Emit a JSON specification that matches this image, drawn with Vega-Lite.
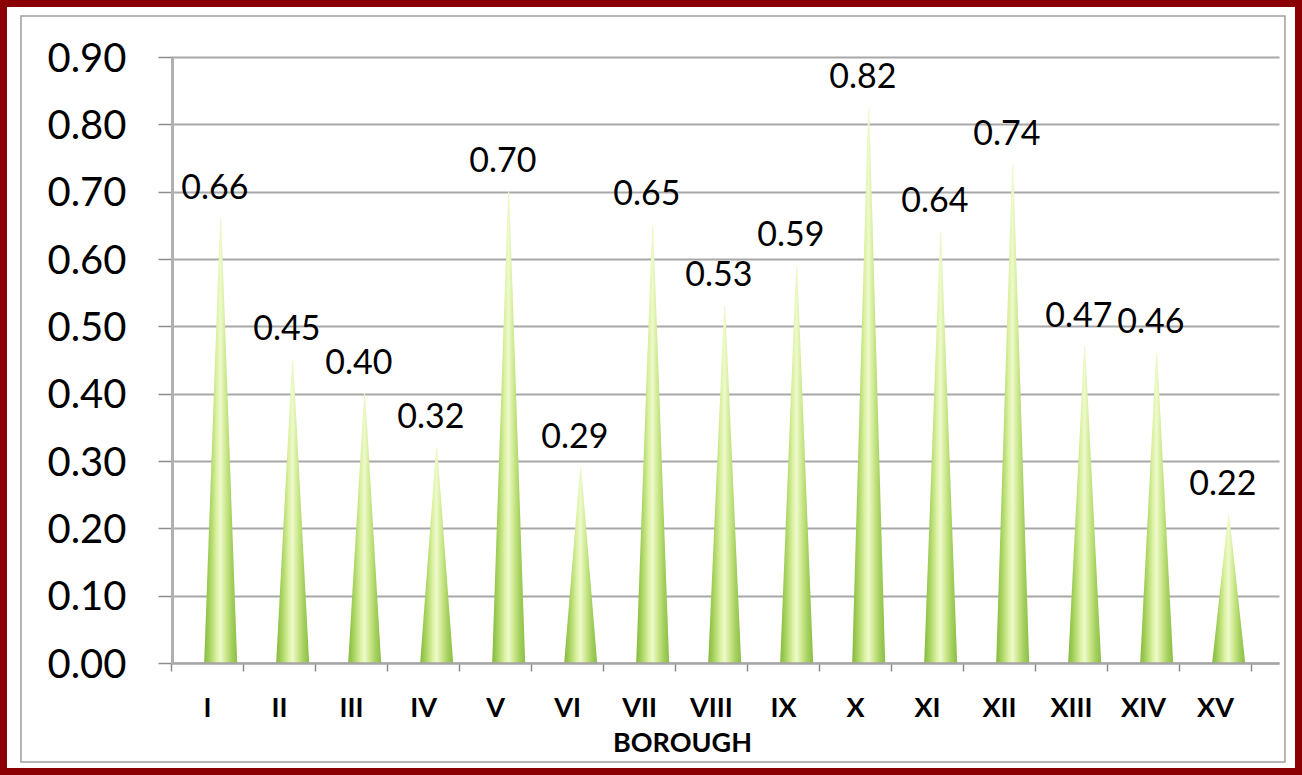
{
  "$schema": "https://vega.github.io/schema/vega-lite/v6.json",
  "width": 1302,
  "height": 775,
  "autosize": {"type": "none"},
  "padding": 0,
  "background": "white",
  "config": {
    "view": {"stroke": "#8b0000", "strokeWidth": 14, "fill": "white"},
    "font": "Lato"
  },
  "resolve": {
    "scale": {"x": "independent", "y": "independent"},
    "axis": {"x": "independent", "y": "independent"}
  },
  "layer": [
    {
      "data": {"values": [{"frame": "inner"}]},
      "mark": {"type": "rect", "fillOpacity": 0, "stroke": "#9e9e9e", "strokeWidth": 1.5},
      "encoding": {
        "x": {"datum": 0.0161, "type": "quantitative", "scale": {"domain": [0, 1], "nice": false}, "axis": null},
        "x2": {"datum": 0.9869},
        "y": {"datum": 0.9794, "type": "quantitative", "scale": {"domain": [0, 1], "nice": false}, "axis": null},
        "y2": {"datum": 0.0168}
      }
    },
    {
      "data": {
        "values": [
          {"borough": "I", "value": 0.66},
          {"borough": "II", "value": 0.45},
          {"borough": "III", "value": 0.40},
          {"borough": "IV", "value": 0.32},
          {"borough": "V", "value": 0.70},
          {"borough": "VI", "value": 0.29},
          {"borough": "VII", "value": 0.65},
          {"borough": "VIII", "value": 0.53},
          {"borough": "IX", "value": 0.59},
          {"borough": "X", "value": 0.824},
          {"borough": "XI", "value": 0.64},
          {"borough": "XII", "value": 0.74},
          {"borough": "XIII", "value": 0.47},
          {"borough": "XIV", "value": 0.46},
          {"borough": "XV", "value": 0.22}
        ]
      },
      "layer": [
        {
          "transform": [
            {"stack": "value", "groupby": ["borough"], "as": ["base", "top"]},
            {"fold": ["base", "top"], "as": ["end", "h"]},
            {"window": [{"op": "rank", "as": "k"}], "groupby": ["borough"], "sort": [{"field": "h", "order": "ascending"}]}
          ],
          "mark": {
            "type": "trail",
            "fill": {
              "gradient": "linear", "x1": 0, "y1": 0, "x2": 1, "y2": 0,
              "stops": [
                {"offset": 0, "color": "#86b83c"},
                {"offset": 0.18, "color": "#a9d462"},
                {"offset": 0.38, "color": "#dcf2a2"},
                {"offset": 0.5, "color": "#eefacc"},
                {"offset": 0.66, "color": "#cbe88c"},
                {"offset": 0.85, "color": "#a2cf5c"},
                {"offset": 1, "color": "#8cbd45"}
              ]
            },
            "strokeWidth": 0
          },
          "encoding": {
            "x": {
              "field": "borough", "type": "ordinal", "bandPosition": 0.69,
              "scale": {"type": "band", "domain": ["I", "II", "III", "IV", "V", "VI", "VII", "VIII", "IX", "X", "XI", "XII", "XIII", "XIV", "XV"], "range": [171, 1279], "paddingInner": 0, "paddingOuter": 0.1944, "align": 0},
              "axis": {
                "title": "BOROUGH", "orient": "bottom", "offset": -112, "tickBand": "extent",
                "ticks": true, "tickSize": 8, "tickColor": "#8c8c8c", "tickWidth": 1.5,
                "domainColor": "#a6a6a6", "domainWidth": 2.5,
                "labelFont": "Lato", "labelFontSize": 27, "labelFontWeight": "bold", "labelColor": "black",
                "labelPadding": 45, "labelBaseline": "alphabetic", "labelAngle": 0,
                "titleFont": "Lato", "titleFontSize": 27, "titleFontWeight": "bold", "titleColor": "black",
                "titleX": 682, "titleY": 88, "titleBaseline": "alphabetic", "titleAlign": "center",
                "grid": false, "zindex": 1
              }
            },
            "y": {
              "field": "h", "type": "quantitative",
              "scale": {"domain": [0, 0.9], "range": [663, 57], "nice": false, "zero": true},
              "axis": {
                "orient": "left", "offset": -172, "title": null,
                "values": [0, 0.1, 0.2, 0.3, 0.4, 0.5, 0.6, 0.7, 0.8, 0.9], "format": ".2f",
                "tickSize": 14, "tickColor": "#8c8c8c", "tickWidth": 1.5,
                "domainColor": "#b0b0b0", "domainWidth": 3,
                "labelFont": "Lato", "labelFontSize": 40, "labelColor": "black", "labelPadding": 32, "labelOffset": 2,
                "grid": true, "gridColor": "#a8a8a8", "gridWidth": 2
              }
            },
            "size": {"field": "k", "type": "quantitative", "scale": {"domain": [1, 2], "range": [33, 0], "zero": false}, "legend": null},
            "detail": {"field": "borough"},
            "order": {"field": "k"}
          }
        },
        {
          "mark": {"type": "bar", "color": "white"},
          "encoding": {
            "x": {"field": "borough", "type": "ordinal"},
            "y": {"datum": 0, "type": "quantitative"},
            "y2": {"datum": -0.03}
          }
        },
        {
          "mark": {"type": "text", "font": "Lato", "fontSize": 34, "baseline": "alphabetic", "dy": -20, "color": "black"},
          "encoding": {
            "x": {"field": "borough", "type": "ordinal", "bandPosition": 0.61},
            "y": {"field": "value", "type": "quantitative"},
            "text": {"field": "value", "type": "quantitative", "format": ".2f"}
          }
        }
      ]
    }
  ]
}
